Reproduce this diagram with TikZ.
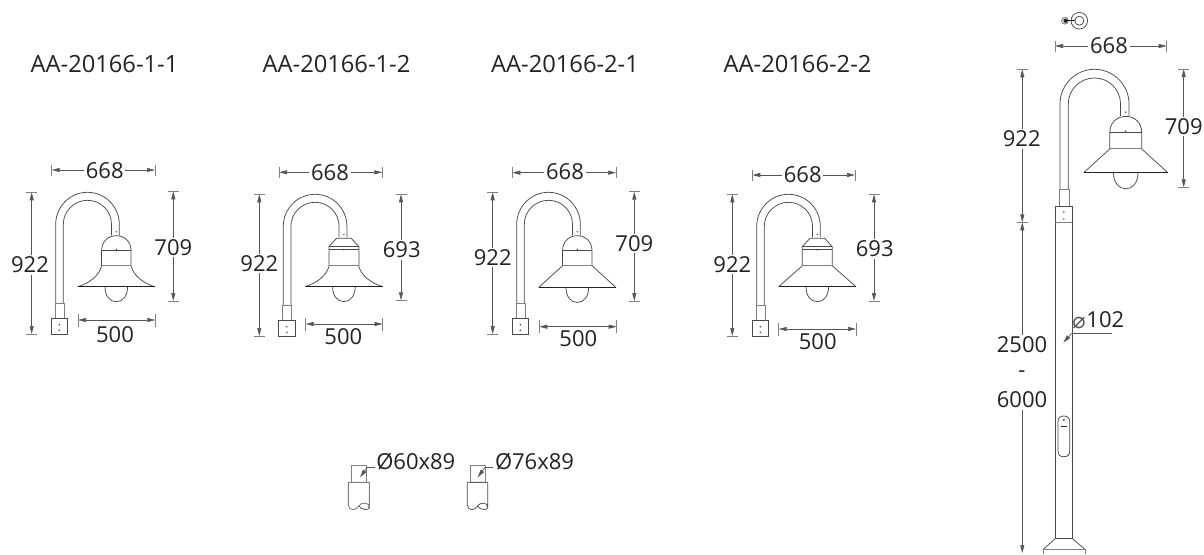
\documentclass[tikz,border=0pt]{standalone}
\usepackage{fontspec}
\setmainfont{Open Sans}
\newfontfamily\symfont{DejaVu Sans}
\usetikzlibrary{arrows.meta}
\definecolor{ink}{HTML}{222222}
\definecolor{dimc}{HTML}{555555}
\definecolor{linec}{HTML}{4A4A4A}
\definecolor{softc}{HTML}{808080}
\tikzset{
  lab/.style={font=\fontsize{22}{24}\selectfont,text=ink,inner sep=1.5pt},
  ttl/.style={font=\fontsize{23.7}{25}\selectfont,text=ink,inner sep=0pt},
  dimline/.style={draw=dimc,line width=0.7pt},
  dimtip/.style={dimline,-{Stealth[length=8pt,width=4pt,inset=0pt]}},
  dimtips/.style={dimline,{Stealth[length=8pt,width=4pt,inset=0pt]}-{Stealth[length=8pt,width=4pt,inset=0pt]}},
  ext/.style={draw=softc,line width=0.6pt},
  body/.style={draw=linec,line width=0.75pt},
  soft/.style={draw=softc,line width=0.9pt},
  rim/.style={draw=ink,line width=1.2pt},
}
% horizontal dim broken by its label
\newcommand\HDim[7]{%
  \node[lab] (#1) at (#5,#6) {#7};
  \coordinate (#1a) at (#2,#4); \coordinate (#1b) at (#3,#4);
  \draw[dimtip] (#1.west |- #1a) -- (#1a);
  \draw[dimtip] (#1.east |- #1b) -- (#1b);
  \draw[ext] (#2,#4-5.5) -- (#2,#4+5.5);
  \draw[ext] (#3,#4-5.5) -- (#3,#4+5.5);
}
% vertical dim broken by its label
\newcommand\VDim[7]{%
  \node[lab] (#1) at (#5,#6) {#7};
  \coordinate (#1a) at (#2,#3); \coordinate (#1b) at (#2,#4);
  \draw[dimtip] (#1a |- #1.north) -- (#1a);
  \draw[dimtip] (#1b |- #1.south) -- (#1b);
  \draw[ext] (#2-5.5,#3) -- (#2+5.5,#3);
  \draw[ext] (#2-5.5,#4) -- (#2+5.5,#4);
}
% horizontal dim with label beneath
\newcommand\BDim[7]{%
  \coordinate (#1a) at (#2,#4); \coordinate (#1b) at (#3,#4);
  \draw[dimtips] (#1a) -- (#1b);
  \draw[ext] (#2,#4-6.5) -- (#2,#4+6.5);
  \draw[ext] (#3,#4-6.5) -- (#3,#4+6.5);
  \node[lab] (#1) at (#5,#6) {#7};
}
\newcommand\ArmBody{%
  \draw[body] (0,111) -- (0,32) .. controls (0,14.3) and (14.3,0) .. (31.8,0)
     .. controls (49.3,0) and (63.6,14.3) .. (63.6,32) -- (63.6,43);
  \draw[body] (7.6,111) -- (7.6,32) .. controls (7.6,18.7) and (18.5,8) .. (31.8,8)
     .. controls (45.1,8) and (55.8,18.7) .. (55.8,32) -- (55.8,43);
}
\newcommand\DomeTop{%
  \draw[body] (45.9,73.4) -- (45.9,58.4) .. controls (45.9,49) and (52.5,43.4) .. (60.6,43.4)
     .. controls (68.7,43.4) and (75.3,49) .. (75.3,58.4) -- (75.3,73.4);
  \draw[body] (45.9,58.4) -- (75.3,58.4);
  \draw[soft] (45.9,73.4) -- (75.3,73.4);
  \fill[ink] (60.6,57) circle (0.7);
  \fill[ink] (60.6,39.5) circle (0.7);
}
\newcommand\CapTop{%
  \draw[body] (45.6,71.3) -- (45.6,52.3) -- (53.3,44) -- (67.9,44) -- (75.6,52.3) -- (75.6,71.3);
  \draw[body] (45.6,52.3) -- (75.6,52.3);
  \draw[body] (45.6,55) -- (75.6,55);
  \draw[soft] (45.6,71.3) -- (75.6,71.3);
  \fill[ink] (60.6,55.5) circle (0.7);
  \fill[ink] (60.6,40) circle (0.7);
}
\newcommand\Flared[2]{%
  \draw[body] (45.9,#1) .. controls (43.5,#1+10) and (33.5,#2-3.5) .. (21.9,#2);
  \draw[body] (75.3,#1) .. controls (77.7,#1+10) and (87.7,#2-3.5) .. (99.3,#2);
}
\newcommand\Straight[2]{%
  \draw[body] (45.9,#1) -- (21.9,#2);
  \draw[body] (75.3,#1) -- (99.3,#2);
}
\newcommand\Rim[1]{%
  \draw[rim] (21.9,#1) -- (99.3,#1);
  \draw[body] (49.3,#1) .. controls (49.3,#1+9) and (54,#1+15) .. (60.6,#1+15)
     .. controls (67.2,#1+15) and (71.9,#1+9) .. (71.9,#1);
}
\newcommand\Adapter{%
  \draw[soft] (-0.7,111) rectangle (8.6,126);
  \draw[body] (-4.7,126) rectangle (12,141.7);
  \fill[ink] (3.6,132.4) circle (0.8);
  \fill[ink] (3.6,138) circle (0.8);
}
\begin{document}
\begin{tikzpicture}[x=1pt,y=-1pt]
\useasboundingbox (0,0) rectangle (1204,554);
% titles
\node[ttl] (t1) at (104.5,64) {AA-20166-1-1};
\node[ttl] (t2) at (336.5,64) {AA-20166-1-2};
\node[ttl] (t3) at (565,64) {AA-20166-2-1};
\node[ttl] (t4) at (797.5,64) {AA-20166-2-2};
% lamp 1
\begin{scope}[shift={(55.7,192.3)}]
\ArmBody\DomeTop\Flared{73.4}{94.5}\Rim{94.5}\Adapter
\end{scope}
\HDim{aw}{51.7}{155}{170}{104.7}{170.5}{668}
\VDim{ah}{31.7}{192.3}{334}{30}{265}{922}
\VDim{ad}{173.3}{191.3}{301}{173.3}{247.7}{709}
\BDim{ab}{78}{155.3}{320}{115}{335}{500}
% lamp 2
\begin{scope}[shift={(283.3,194.3)}]
\ArmBody\CapTop\Flared{71.3}{92.3}\Rim{92.3}\Adapter
\end{scope}
\HDim{bw}{279}{382.3}{172.3}{330}{172.5}{668}
\VDim{bh}{259.3}{194.3}{336}{259.3}{263.3}{922}
\VDim{bd}{401}{194.3}{300.3}{401.7}{250}{693}
\BDim{bb}{305.7}{382.7}{324}{343.3}{336.7}{500}
% lamp 3
\begin{scope}[shift={(516.7,192.3)}]
\ArmBody\DomeTop\Straight{73.4}{95.2}\Rim{95.2}\Adapter
\end{scope}
\HDim{cw}{512.3}{616}{172.7}{565}{172}{668}
\VDim{ch}{492.7}{192.3}{334}{492.7}{257.3}{922}
\VDim{cd}{634.3}{191.7}{301}{634.3}{243.3}{709}
\BDim{cb}{539.3}{616.7}{326.7}{578.3}{339}{500}
% lamp 4
\begin{scope}[shift={(756.7,194.3)}]
\ArmBody\CapTop\Straight{71.3}{92.4}\Rim{92.4}\Adapter
\end{scope}
\HDim{dw}{752.3}{855}{175}{802.7}{175}{668}
\VDim{dh}{732.3}{194.3}{336}{732.3}{264.3}{922}
\VDim{dd}{874}{194.3}{301}{874.7}{249}{693}
\BDim{db}{778.7}{856}{329}{817.7}{341.7}{500}
% tall lamp
\begin{scope}[shift={(1060,69.3)},scale=1.085]
\ArmBody\DomeTop\Straight{73.4}{95.2}\Rim{95.2}
\end{scope}
\draw[soft] (1059,189.3) rectangle (1069.3,206);
\draw[body] (1055.3,538.5) -- (1055.3,206) -- (1072.3,206) -- (1072.3,538.5);
\draw[soft] (1055.3,222.7) -- (1072.3,222.7);
\fill[ink] (1063.8,212) circle (0.8);
\fill[ink] (1063.8,219) circle (0.8);
% pole door
\draw[body] (1058,422) .. controls (1058,418) and (1060,416) .. (1063.8,416)
   .. controls (1067.6,416) and (1069.7,418) .. (1069.7,422) -- (1069.7,451)
   .. controls (1069.7,455) and (1067.6,456.7) .. (1063.8,456.7)
   .. controls (1060,456.7) and (1058,455) .. (1058,451) -- cycle;
\fill[ink] (1063.8,420) circle (1);
\draw[ink,line width=1pt] (1060.5,426) -- (1067,426);
% pole base
\draw[body] (1055.3,538.5) -- (1072.3,538.5);
\draw[body] (1055.3,538.5) -- (1043.3,549.3);
\draw[body] (1072.3,538.5) -- (1085,549.3);
\draw[soft] (1043.3,549.3) -- (1085,549.3);
\draw[soft] (1043.3,549.3) -- (1043.3,554);
\draw[soft] (1085,549.3) -- (1085,554);
% top view
\draw[body] (1079.3,20.7) circle (8.3);
\draw[body] (1079.3,20.7) circle (4.5);
\draw[soft] (1065,20.7) circle (3.4);
\fill[ink] (1065.5,20.7) circle (2.2);
\draw[ink,line width=1pt] (1065.5,20.7) -- (1075,20.7);
% tall dims
\HDim{ew}{1055}{1166.7}{46}{1109}{46}{668}
\VDim{eh}{1022.3}{69.3}{222.3}{1021.7}{139}{922}
\VDim{ed}{1183.7}{69}{187.3}{1183.7}{126.7}{709}
\node[lab] (ep) at (1022,345) {2500};
\node[lab] (em) at (1022,374) {-};
\node[lab] (eq) at (1022,400) {6000};
\coordinate (eu) at (1022.3,222.3);
\coordinate (ev) at (1022.3,553);
\draw[dimtip] (eu |- ep.north) -- (eu);
\draw[dimtip] (ev |- eq.south) -- (ev);
% phi 102
\node[lab,inner sep=0pt] (ef) at (1105.3,320) {102};
\node[font=\fontsize{22}{24}\selectfont\symfont,text=dimc,inner sep=0pt] (eg) at (1079,322.7) {\char"2300};
\coordinate (ex) at (1071.7,333.3);
\coordinate (ey) at (1063.3,342.7);
\coordinate (ez) at (1111.7,333.3);
\draw[dimline] (ez) -- (ex);
\draw[dimtip] (ex) -- (ey);
% spigots
\node[lab,inner sep=0pt] (sa) at (415.8,461.7) {Ø60x89};
\draw[soft] (351,465) rectangle (366.7,482.3);
\draw[soft] (348.3,482.3) -- (348.3,505) .. controls (349,511) and (356,511) .. (358.8,506)
  .. controls (361,502) and (369.3,502) .. (369.3,507) -- (369.3,482.3) -- cycle;
\draw[body] (358.8,506) .. controls (361,510) and (369.3,511) .. (369.3,507);
\coordinate (sb) at (367.3,467.3);
\coordinate (sc) at (360,477.3);
\coordinate (sd) at (375,467.3);
\draw[dimline] (sd) -- (sb);
\draw[dimtip] (sb) -- (sc);
\node[lab,inner sep=0pt] (ta) at (534.5,461.7) {Ø76x89};
\draw[soft] (470,465) rectangle (485,482.3);
\draw[body] (467.3,482.3) -- (467.3,505) .. controls (468,511) and (475,511) .. (477.5,506)
  .. controls (480,502) and (487.7,502) .. (487.7,507) -- (487.7,482.3) -- cycle;
\draw[body] (477.5,506) .. controls (480,510) and (487.7,511) .. (487.7,507);
\coordinate (tb) at (485,467.3);
\coordinate (tc) at (477.7,477.3);
\coordinate (td) at (493.3,467.3);
\draw[dimline] (td) -- (tb);
\draw[dimtip] (tb) -- (tc);
\end{tikzpicture}
\end{document}
